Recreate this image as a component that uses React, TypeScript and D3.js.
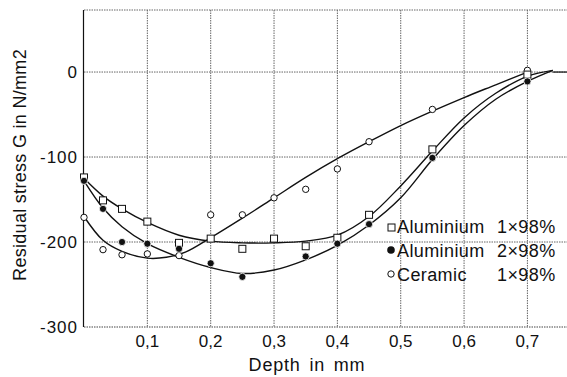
import React from 'react';
import * as d3 from 'd3';

// measured points (depth in mm, residual stress in N/mm2)
const depthAl1 = [0, 0.03, 0.06, 0.1, 0.15, 0.2, 0.25, 0.3, 0.35, 0.4, 0.45, 0.55, 0.7];
const stressAl1 = [-124, -151, -161, -176, -201, -196, -208, -196, -205, -195, -168, -91, -3];
const depthAl2 = [0, 0.03, 0.06, 0.1, 0.15, 0.2, 0.25, 0.35, 0.4, 0.45, 0.55, 0.7];
const stressAl2 = [-128, -161, -200, -202, -208, -225, -241, -217, -202, -179, -101, -11];
const depthCer = [0, 0.03, 0.06, 0.1, 0.15, 0.2, 0.25, 0.3, 0.35, 0.4, 0.45, 0.55, 0.7];
const stressCer = [-171, -209, -215, -214, -216, -168, -168, -148, -138, -114, -82, -44, 2];

// fitted curves
const fitDepthAl = [0, 0.03, 0.06, 0.1, 0.15, 0.2, 0.25, 0.3, 0.35, 0.4, 0.45, 0.5, 0.55, 0.6, 0.65, 0.7, 0.74];
const fitAl1 = [-125, -146, -161, -177, -192, -199, -201, -201, -199, -192, -170, -134, -93, -54, -25, -5, 2];
const fitAl2 = [-128, -160, -182, -202, -218, -230, -237, -233, -221, -204, -180, -148, -103, -63, -32, -11, 2];
const fitDepthCer = [0, 0.03, 0.06, 0.1, 0.13, 0.16, 0.2, 0.25, 0.3, 0.35, 0.4, 0.45, 0.5, 0.55, 0.6, 0.65, 0.7];
const fitCer = [-170, -198, -211, -219, -218, -212, -195, -172, -148, -124, -102, -82, -63, -46, -30, -15, 0];

const xTicks = [0.1, 0.2, 0.3, 0.4, 0.5, 0.6, 0.7];
const xTickLabels = ['0,1', '0,2', '0,3', '0,4', '0,5', '0,6', '0,7'];
const yTicks = [0, -100, -200, -300];
const yTickLabels = ['0', '-100', '-200', '-300'];

const legendNames = ['Aluminium', 'Aluminium', 'Ceramic'];
const legendFactors = ['1×98%', '2×98%', '1×98%'];

const W = 567, H = 377;
const font = '"Liberation Sans", Arial, sans-serif';

export default function App() {
  const x = d3.scaleLinear().domain([0, 0.7625]).range([84, 567]);
  const y = d3.scaleLinear().domain([-300, 73]).range([327, 10]);

  const line = d3.line<[number, number]>()
    .x(d => x(d[0]))
    .y(d => y(d[1]))
    .curve(d3.curveCatmullRom.alpha(0.5));

  const zip = (a: number[], b: number[]) => a.map((v, i) => [v, b[i]] as [number, number]);

  const grid = '#666';

  return (
    <svg width={W} height={H} style={{ position: 'absolute', left: 0, top: 0, background: '#fff' }}
      fontFamily={font}>
      {/* top border */}
      <line x1={84} x2={W} y1={y(73)} y2={y(73)} stroke={grid} strokeWidth={1} strokeDasharray="1.5,1" />
      {/* horizontal grid */}
      {yTicks.map(t => (
        <line key={t} x1={84} x2={W} y1={y(t)} y2={y(t)} stroke={t === -300 ? '#444' : grid}
          strokeWidth={1} strokeDasharray="1.5,1" />
      ))}
      {/* vertical grid */}
      {xTicks.map(t => (
        <line key={t} x1={x(t)} x2={x(t)} y1={y(73)} y2={y(-300)} stroke={grid}
          strokeWidth={1} strokeDasharray="1.5,1" />
      ))}
      {/* left axis */}
      <line x1={83.5} x2={83.5} y1={y(73)} y2={y(-300)} stroke="#111" strokeWidth={1.2} />
      <line x1={x(0.74)} x2={W} y1={y(0)} y2={y(0)} stroke="#111" strokeWidth={1.2} />

      {/* y ticks */}
      {yTicks.map((t, i) => (
        <text key={t} x={78} y={y(t)} dy="0.36em" textAnchor="end" fontSize={17} fill="#111"
          letterSpacing={1}>{yTickLabels[i]}</text>
      ))}
      {/* x ticks */}
      {xTicks.map((t, i) => (
        <text key={t} x={x(t)} y={347} textAnchor="middle" fontSize={17} fill="#111">{xTickLabels[i]}</text>
      ))}
      <text x={307} y={371} textAnchor="middle" fontSize={18} fill="#111" letterSpacing={0.8}
        wordSpacing={3}>Depth in mm</text>
      <text transform="translate(26,165) rotate(-90)" textAnchor="middle" fontSize={18} fill="#111"
        letterSpacing={0.3}>Residual stress G in N/mm2</text>

      {/* curves */}
      <path d={line(zip(fitDepthAl, fitAl1)) || ''} fill="none" stroke="#111" strokeWidth={1.4} />
      <path d={line(zip(fitDepthAl, fitAl2)) || ''} fill="none" stroke="#111" strokeWidth={1.4} />
      <path d={line(zip(fitDepthCer, fitCer)) || ''} fill="none" stroke="#111" strokeWidth={1.4} />

      {/* markers */}
      {depthCer.map((d, i) => (
        <circle key={'c' + i} cx={x(d)} cy={y(stressCer[i])} r={3.2} fill="#fff" stroke="#111" strokeWidth={1} />
      ))}
      {depthAl1.map((d, i) => (
        <rect key={'s' + i} x={x(d) - 3.5} y={y(stressAl1[i]) - 3.5} width={7} height={7}
          fill="#fff" stroke="#111" strokeWidth={1} />
      ))}
      {depthAl2.map((d, i) => (
        <circle key={'f' + i} cx={x(d)} cy={y(stressAl2[i])} r={3.6} fill="#111" stroke="#fff" strokeWidth={0.8} />
      ))}

      {/* legend */}
      <g fontSize={18} fill="#111">
        <rect x={388} y={224} width={7} height={7} fill="#fff" stroke="#111" />
        <circle cx={391} cy={250} r={3.8} fill="#111" />
        <circle cx={391} cy={274} r={3.2} fill="#fff" stroke="#111" />
        {legendNames.map((n, i) => (
          <g key={i}>
            <text x={397} y={233 + i * 24} letterSpacing={0.4}>{n}</text>
            <text x={497} y={233 + i * 24} letterSpacing={0.4}>{legendFactors[i]}</text>
          </g>
        ))}
      </g>
    </svg>
  );
}
